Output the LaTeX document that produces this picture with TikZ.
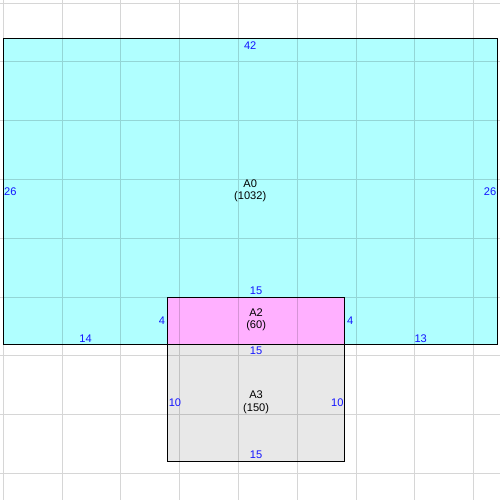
\documentclass[tikz,border=0pt]{standalone}
\usepackage{fontspec}
\setmainfont{Liberation Sans}
\usepackage{xcolor}
\definecolor{roomcyan}{RGB}{176,255,255}
\definecolor{roompink}{RGB}{255,176,255}
\definecolor{roomgrey}{RGB}{232,232,232}
\definecolor{lenblue}{RGB}{20,20,255}
\begin{document}
\begin{tikzpicture}[x=0.25cm,y=0.25cm,
  wall/.style={draw=black,line width=0.6pt},
  len/.style={text=lenblue,font=\fontsize{6.7}{7.5}\selectfont,inner sep=0pt},
  roomname/.style={align=center,font=\fontsize{6.7}{7.3}\selectfont,inner sep=0pt}]
\useasboundingbox (-0.28,-13.26) rectangle (42.24,29.26);
\fill[white] (-0.28,-13.26) rectangle (42.24,29.26);
% floor areas
\fill[roomcyan] (0,0) rectangle (42,26);
\fill[roompink] (14,0) rectangle (29,4);
\fill[roomgrey] (14,-10) rectangle (29,0);
% grid
\begin{scope}[yshift=-0.25cm]
\draw[black,opacity=0.16,line width=0.6pt] (-0.28,-12.26) grid[step=5] (42.24,30.26);
\end{scope}
% walls
\draw[wall] (0,0) rectangle (42,26);
\draw[wall] (14,0) rectangle (29,4);
\draw[wall] (14,-10) rectangle (29,0);
% A0
\node[roomname] (a0) at (21,13) {A0\\(1032)};
\node[len] (a0top) at (21,25.4) {42};
\node[len] (a0left) at (0.6,13) {26};
\node[len] (a0right) at (41.4,13) {26};
\node[len] (a0botl) at (7,0.5) {14};
\node[len] (a0botr) at (35.5,0.5) {13};
% A2
\node[roomname] (a2) at (21.5,2.05) {A2\\(60)};
\node[len] (a2top) at (21.5,4.5) {15};
\node[len] (a2left) at (13.5,2) {4};
\node[len] (a2right) at (29.5,2) {4};
% A3
\node[roomname] (a3) at (21.5,-4.95) {A3\\(150)};
\node[len] (a3top) at (21.5,-0.55) {15};
\node[len] (a3left) at (14.6,-5) {10};
\node[len] (a3right) at (28.4,-5) {10};
\node[len] (a3bot) at (21.5,-9.45) {15};
\end{tikzpicture}
\end{document}
